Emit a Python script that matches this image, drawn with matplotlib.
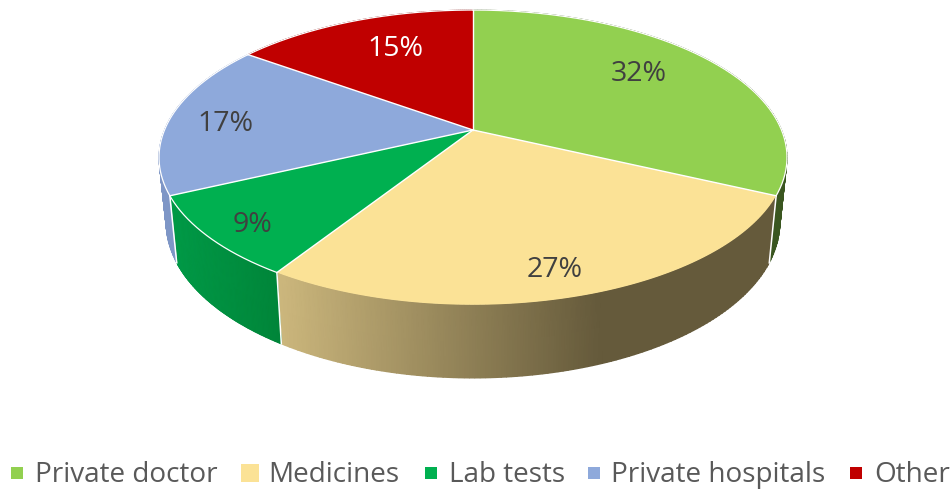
import numpy as np
import matplotlib
matplotlib.use("Agg")
import matplotlib.pyplot as plt
from matplotlib.colors import LinearSegmentedColormap
from matplotlib.patches import Polygon, Rectangle

categories = ["Private doctor", "Medicines", "Lab tests", "Private hospitals", "Other"]
values = [32, 27, 9, 17, 15]
top_colors = ["#92D050", "#FBE296", "#00B050", "#8EA9DB", "#C00000"]
# side wall shade, left end and right end of each slice
side_colors = [("#3C5A20", "#3A5620"), ("#CBB67C", "#655A3B"), ("#009A47", "#008539"),
               ("#7E96C6", "#7E96C6"), ("#7A0000", "#7A0000")]

label_pos = [(639, 74), (555, 270), (253, 225), (225, 124), (395, 49)]
label_colors = ["#404040", "#404040", "#404040", "#404040", "white"]
legend_sq = [(11, 467, 12), (241, 464, 18), (425, 467, 12), (588, 467, 12), (850, 467, 12)]
legend_txt = [35, 268, 449, 611, 874]

cx = 473
c = 0.186  # perspective


def rim_top(theta):
    u, v = np.sin(theta), np.cos(theta)
    d = c * v + 1
    return cx + 308.5 * u / d, (-118.1 * v + 130) / d


def rim_bottom(theta):
    u, v = np.sin(theta), np.cos(theta)
    d = c * v + 1
    return cx + 301.5 * u / d, (-114.3 * v + 193.4) / d


fig = plt.figure(figsize=(9.52, 4.9), dpi=100)
ax = fig.add_axes([0, 0, 1, 1])
ax.set_xlim(0, 952)
ax.set_ylim(490, 0)
ax.axis("off")

bounds = np.cumsum([0] + values) / sum(values) * 2 * np.pi

# side walls first, top faces go over them
for i in range(len(values)):
    t = np.linspace(bounds[i], bounds[i + 1], 120)
    x1, y1 = rim_top(t)
    x2, y2 = rim_bottom(t)
    X = np.vstack([x1, x2])
    Y = np.vstack([y1, y2])
    if i == 1:
        shade = np.clip((X - 283) / (600 - 283), 0, 1)
    else:
        shade = (X - X.min()) / (X.max() - X.min())
    cmap = LinearSegmentedColormap.from_list("s%d" % i, side_colors[i])
    ax.pcolormesh(X, Y, shade, shading="gouraud", cmap=cmap, vmin=0, vmax=1, zorder=1)

for b in bounds[1:4]:
    xa, ya = rim_top(b)
    xb, yb = rim_bottom(b)
    ax.plot([xa, xb], [ya, yb], color="white", lw=1.1, zorder=2)

for i in range(len(values)):
    t = np.linspace(bounds[i], bounds[i + 1], 200)
    x1, y1 = rim_top(t)
    pts = np.column_stack([np.r_[cx, x1], np.r_[130, y1]])
    ax.add_patch(Polygon(pts, closed=True, facecolor=top_colors[i], edgecolor="none", zorder=3))
    if i != 1:
        ax.plot(x1, y1, color="white", lw=0.9, zorder=4)

for b in bounds[:-1]:
    xa, ya = rim_top(b)
    ax.plot([cx, xa], [130, ya], color="white", lw=1.0, zorder=4)

for val, (lx, ly), lc in zip(values, label_pos, label_colors):
    ax.text(lx, ly, "%d%%" % val, ha="center", va="center", fontsize=20.5,
            family="Open Sans", color=lc, zorder=5)

for name, (sx, sy, s), col, tx in zip(categories, legend_sq, top_colors, legend_txt):
    ax.add_patch(Rectangle((sx, sy), s, s, facecolor=col, edgecolor="none"))
    ax.text(tx, 482, name, ha="left", va="baseline", fontsize=20.1,
            family="Open Sans", color="#595959")

fig.savefig("out.png", dpi=100)
